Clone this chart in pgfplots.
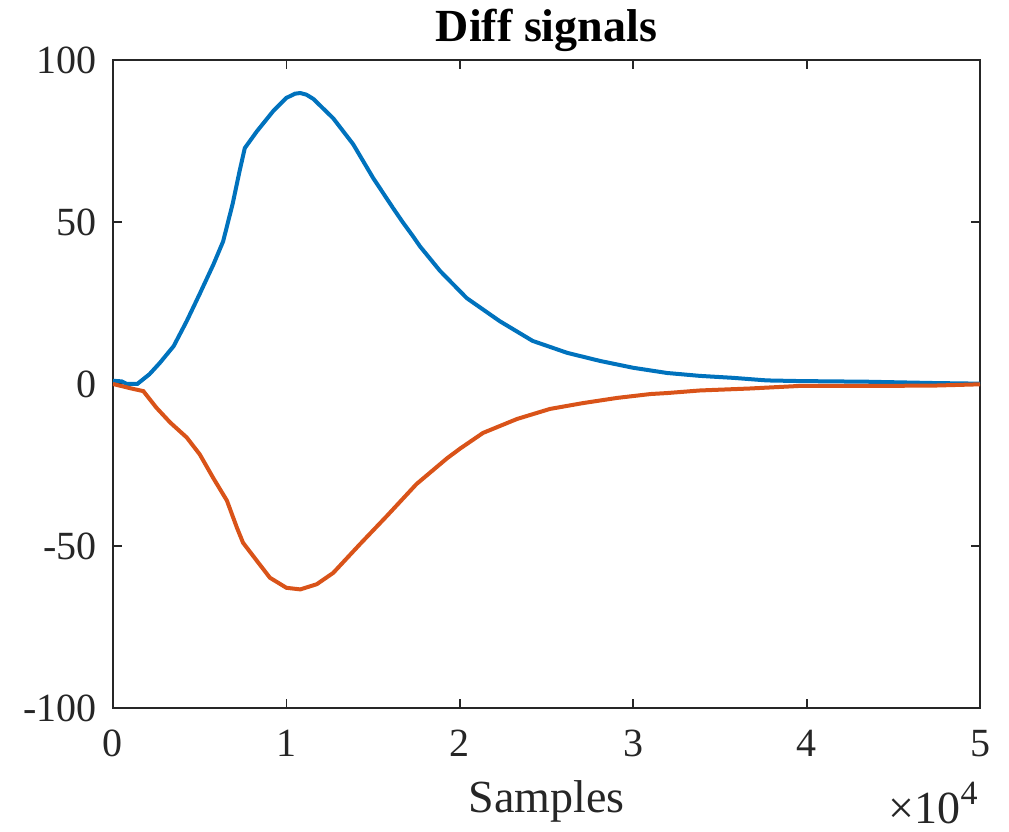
\documentclass[border=0pt]{standalone}
\usepackage{fontspec}
\setmainfont{Liberation Serif}
\usepackage{pgfplots}
\pgfplotsset{compat=1.18}
\definecolor{mblue}{RGB}{0,114,189}
\definecolor{morange}{RGB}{217,83,25}
\definecolor{axgray}{RGB}{38,38,38}
\begin{document}
\begin{tikzpicture}
\begin{axis}[
  scale only axis, width=433.5pt, height=324pt,
  xmin=0, xmax=50000, ymin=-100, ymax=100,
  xtick={0,10000,20000,30000,40000,50000},
  xticklabels={0,1,2,3,4,5},
  ytick={-100,-50,0,50,100},
  yticklabels={-100,-50,0,50,100},
  scaled x ticks=false,
  tick align=inside, major tick length=4.5pt,
  axis line style={axgray, line width=0.9pt},
  every tick/.style={axgray, line width=0.9pt},
  tick label style={font=\fontsize{20}{24}\selectfont, text=axgray},
  xticklabel style={anchor=north, inner sep=0pt, yshift=-11pt},
  yticklabel style={anchor=east, inner sep=0pt, xshift=-8pt},
  title={\textbf{Diff signals}},
  title style={font=\fontsize{23}{27}\selectfont, at={(axis description cs:0.5,1)}, anchor=base, yshift=3pt, inner sep=0pt},
  xlabel={Samples},
  xlabel style={font=\fontsize{23}{27}\selectfont, text=axgray, at={(axis description cs:0.5,0)}, anchor=base, yshift=-52.5pt, inner sep=0pt},
]
\addplot[mblue, line width=2pt] coordinates {
(0,1) (500,0.8) (800,0) (1400,0) (2100,3) (2700,6.5) (3500,11.7) (4250,19.4)
(5000,27.8) (5800,37) (6350,44) (6900,55.6) (7300,65.7) (7600,72.8) (8300,78)
(9250,84.3) (10000,88.3) (10500,89.6) (10800,89.8) (11150,89.3) (11550,88) (12700,82) (13850,74)
(15000,63.6) (16150,54.3) (16700,50) (17300,45.6) (17700,42.5) (18860,34.9) (20400,26.5)
(22300,19.4) (24200,13.3) (26200,9.6) (28100,7.1) (30000,5) (31950,3.4)
(33850,2.5) (35750,1.9) (37700,1.1) (39600,0.9) (43500,0.7) (47300,0.3) (50000,0.1)
};
\addplot[morange, line width=2pt] coordinates {
(0,0) (1150,-1.5) (1750,-2.2) (2500,-7.3) (3300,-11.9) (4250,-16.5) (5000,-21.7)
(5780,-29) (6570,-36) (7150,-44.4) (7500,-49) (8300,-54.6) (9050,-59.8)
(10000,-62.9) (10800,-63.4) (11750,-61.8) (12700,-58.3) (14250,-49.4)
(15800,-40.7) (17500,-30.9) (19250,-23) (20000,-20) (21340,-15.1) (23300,-10.8)
(25200,-7.7) (27100,-5.9) (29070,-4.3) (31000,-3.1) (31950,-2.8) (33850,-2)
(36700,-1.4) (39600,-0.6) (43500,-0.6) (47300,-0.5) (50000,-0.1)
};
\end{axis}
\node[anchor=base east, inner sep=0pt, font=\fontsize{23}{27}\selectfont, text=axgray]
  at ([shift={(-1pt,-58pt)}]current axis.south east) {×10\raisebox{0.9ex}{\fontsize{17}{20}\selectfont 4}};
\pgfresetboundingbox
\path ([shift={(-56.5pt,-62pt)}]current axis.south west) rectangle ([shift={(14.5pt,30pt)}]current axis.north east);
\end{tikzpicture}
\end{document}
